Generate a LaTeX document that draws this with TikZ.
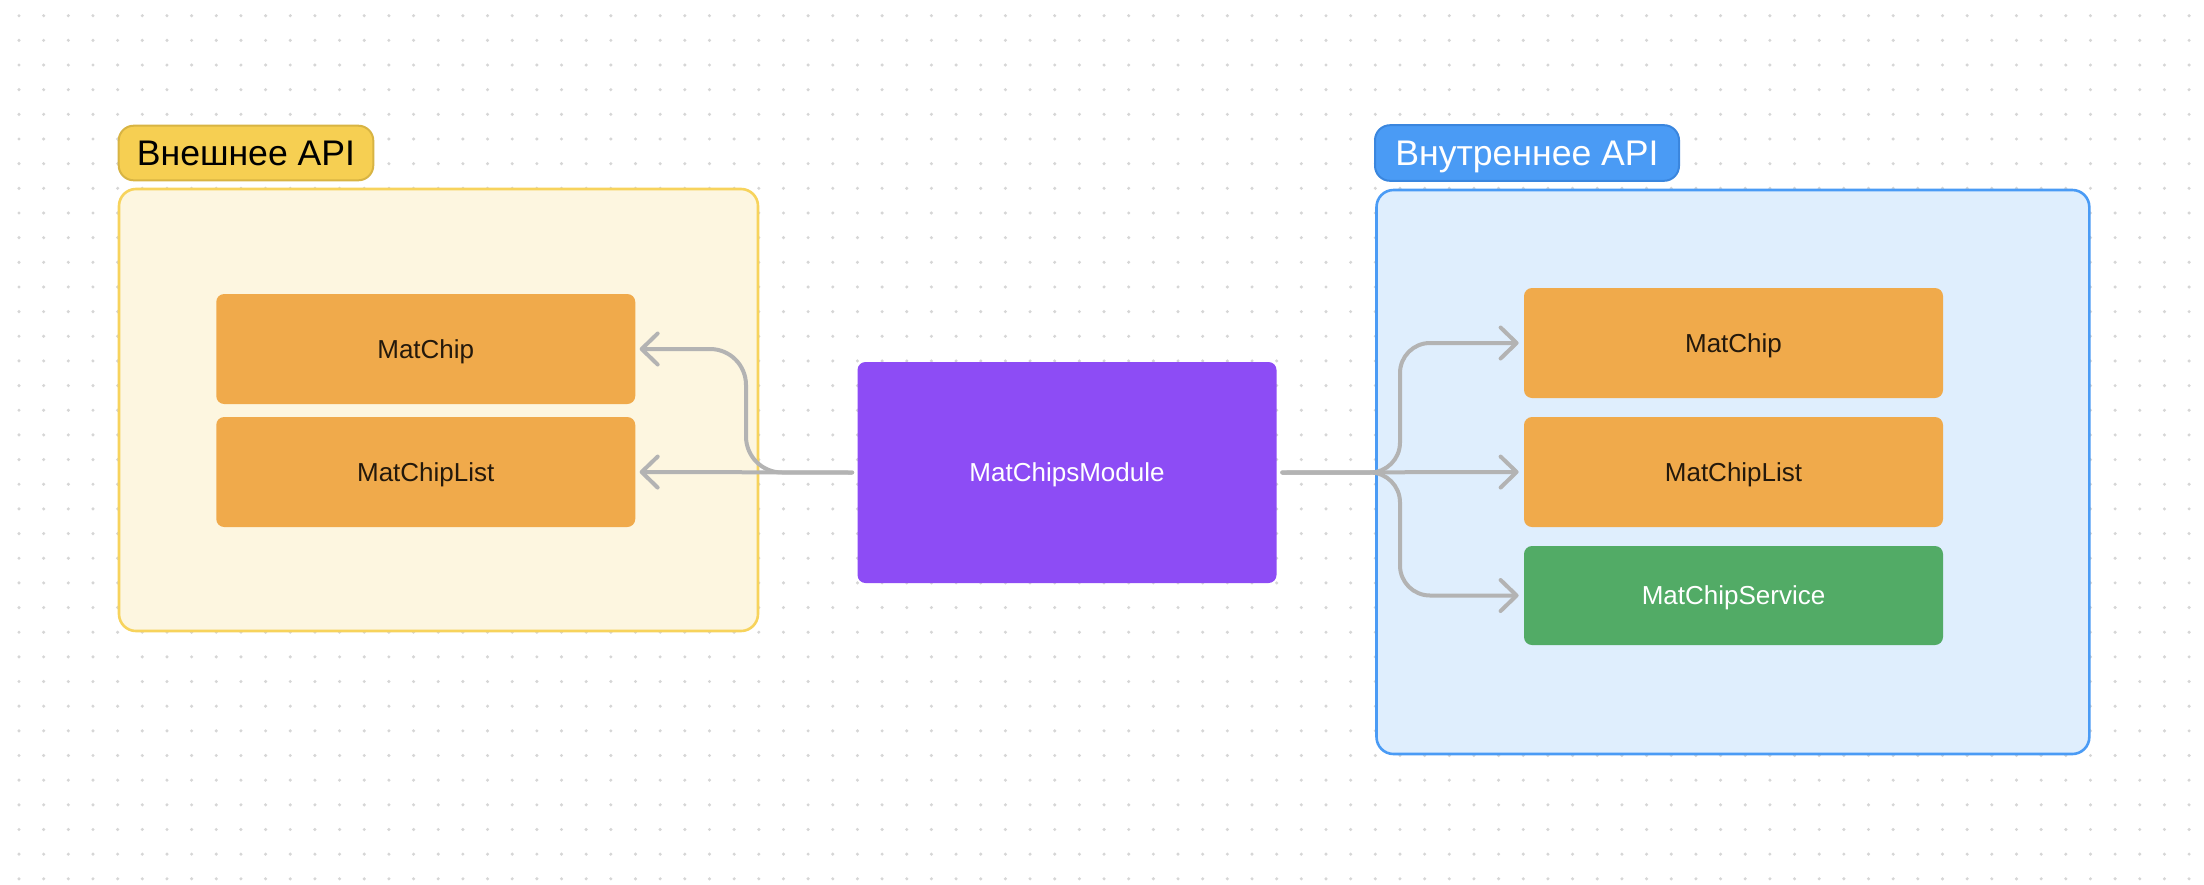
\documentclass[tikz,border=0pt]{standalone}
\usepackage{fontspec}
\setmainfont{Liberation Sans}
\usetikzlibrary{arrows.meta}
\definecolor{dotc}{HTML}{D6D6D6}
\definecolor{ylfill}{HTML}{F6CF52}
\definecolor{yldraw}{HTML}{D8B443}
\definecolor{ycfill}{HTML}{FDF6E0}
\definecolor{ycdraw}{HTML}{F7D35C}
\definecolor{orng}{HTML}{F0AA4B}
\definecolor{orngtxt}{HTML}{24190C}
\definecolor{purp}{HTML}{8D4CF5}
\definecolor{blfill}{HTML}{4A9BF5}
\definecolor{bldraw}{HTML}{3A86DE}
\definecolor{bcfill}{HTML}{DFEEFD}
\definecolor{bcdraw}{HTML}{4A9BF5}
\definecolor{grn}{HTML}{52AB66}
\definecolor{arrc}{HTML}{B3B3B3}
\tikzset{
  label box/.style={draw, line width=1pt, rounded corners=7.5pt, inner sep=0pt, text height=12.75pt, text depth=0pt, font=\fontsize{17.8}{20}\selectfont},
  container/.style={draw, line width=1.3pt, rounded corners=8.5pt, inner sep=0pt},
  chip/.style={rounded corners=4pt, inner sep=0pt, minimum width=209.5pt, text height=9.3pt, text depth=0pt, font=\fontsize{13}{15}\selectfont},
  arr/.style={draw=arrc, line width=2pt, line cap=round, line join=round, -{Straight Barb[length=8pt, width=15.5pt, line width=2pt, round]}},
}
\begin{document}
\begin{tikzpicture}[x=0.5pt, y=-0.5pt]
\useasboundingbox (0,0) rectangle (2204,884);
\fill[white] (0,0) rectangle (2204,884);
% dot grid
\foreach \i in {0,...,89} {
  \foreach \j in {0,...,35} {
    \fill[dotc] (19+24.66*\i, 15.7+24.66*\j) circle[radius=0.85pt];
  }
}
% external API
\node[label box, fill=ylfill, draw=yldraw, text=black, minimum width=127.3pt, minimum height=27.3pt] (yl) at (246,153) {Внешнее API};
\node[container, fill=ycfill, draw=ycdraw, minimum width=319.5pt, minimum height=221pt] (yc) at (438.5,410) {};
\node[chip, fill=orng, text=orngtxt, minimum height=55pt] (lm1) at (425.75,349) {MatChip};
\node[chip, fill=orng, text=orngtxt, minimum height=55pt] (lm2) at (425.75,472) {MatChipList};
% module
\node[chip, fill=purp, text=white, minimum height=110.5pt] (mod) at (1067,472.5) {MatChipsModule};
% internal API
\node[label box, fill=blfill, draw=bldraw, text=white, minimum width=152pt, minimum height=27.8pt] (bl) at (1527,153) {Внутреннее API};
\node[container, fill=bcfill, draw=bcdraw, minimum width=356.4pt, minimum height=282pt] (bc) at (1732.9,472) {};
\node[chip, fill=orng, text=orngtxt, minimum height=55pt] (r1) at (1733.5,343) {MatChip};
\node[chip, fill=orng, text=orngtxt, minimum height=55pt] (r2) at (1733.5,472) {MatChipList};
\node[chip, fill=grn, text=white, minimum height=49.5pt] (r3) at (1733.5,595.5) {MatChipService};
% connectors
\coordinate (lx) at (746,0);
\coordinate (rx) at (1400,0);
\draw[arr] ([xshift=-2.5pt]mod.west) -- ([xshift=2pt]lm2.east);
\draw[arr, rounded corners=18pt] ([xshift=-2.5pt]mod.west) -| (lx |- lm1.east) -- ([xshift=2pt]lm1.east);
\draw[arr] ([xshift=2.75pt]mod.east) -- ([xshift=-2.5pt]r2.west);
\draw[arr, rounded corners=15pt] ([xshift=2.75pt]mod.east) -| (rx |- r1.west) -- ([xshift=-2.5pt]r1.west);
\draw[arr, rounded corners=15pt] ([xshift=2.75pt]mod.east) -| (rx |- r3.west) -- ([xshift=-2.5pt]r3.west);
\end{tikzpicture}
\end{document}
